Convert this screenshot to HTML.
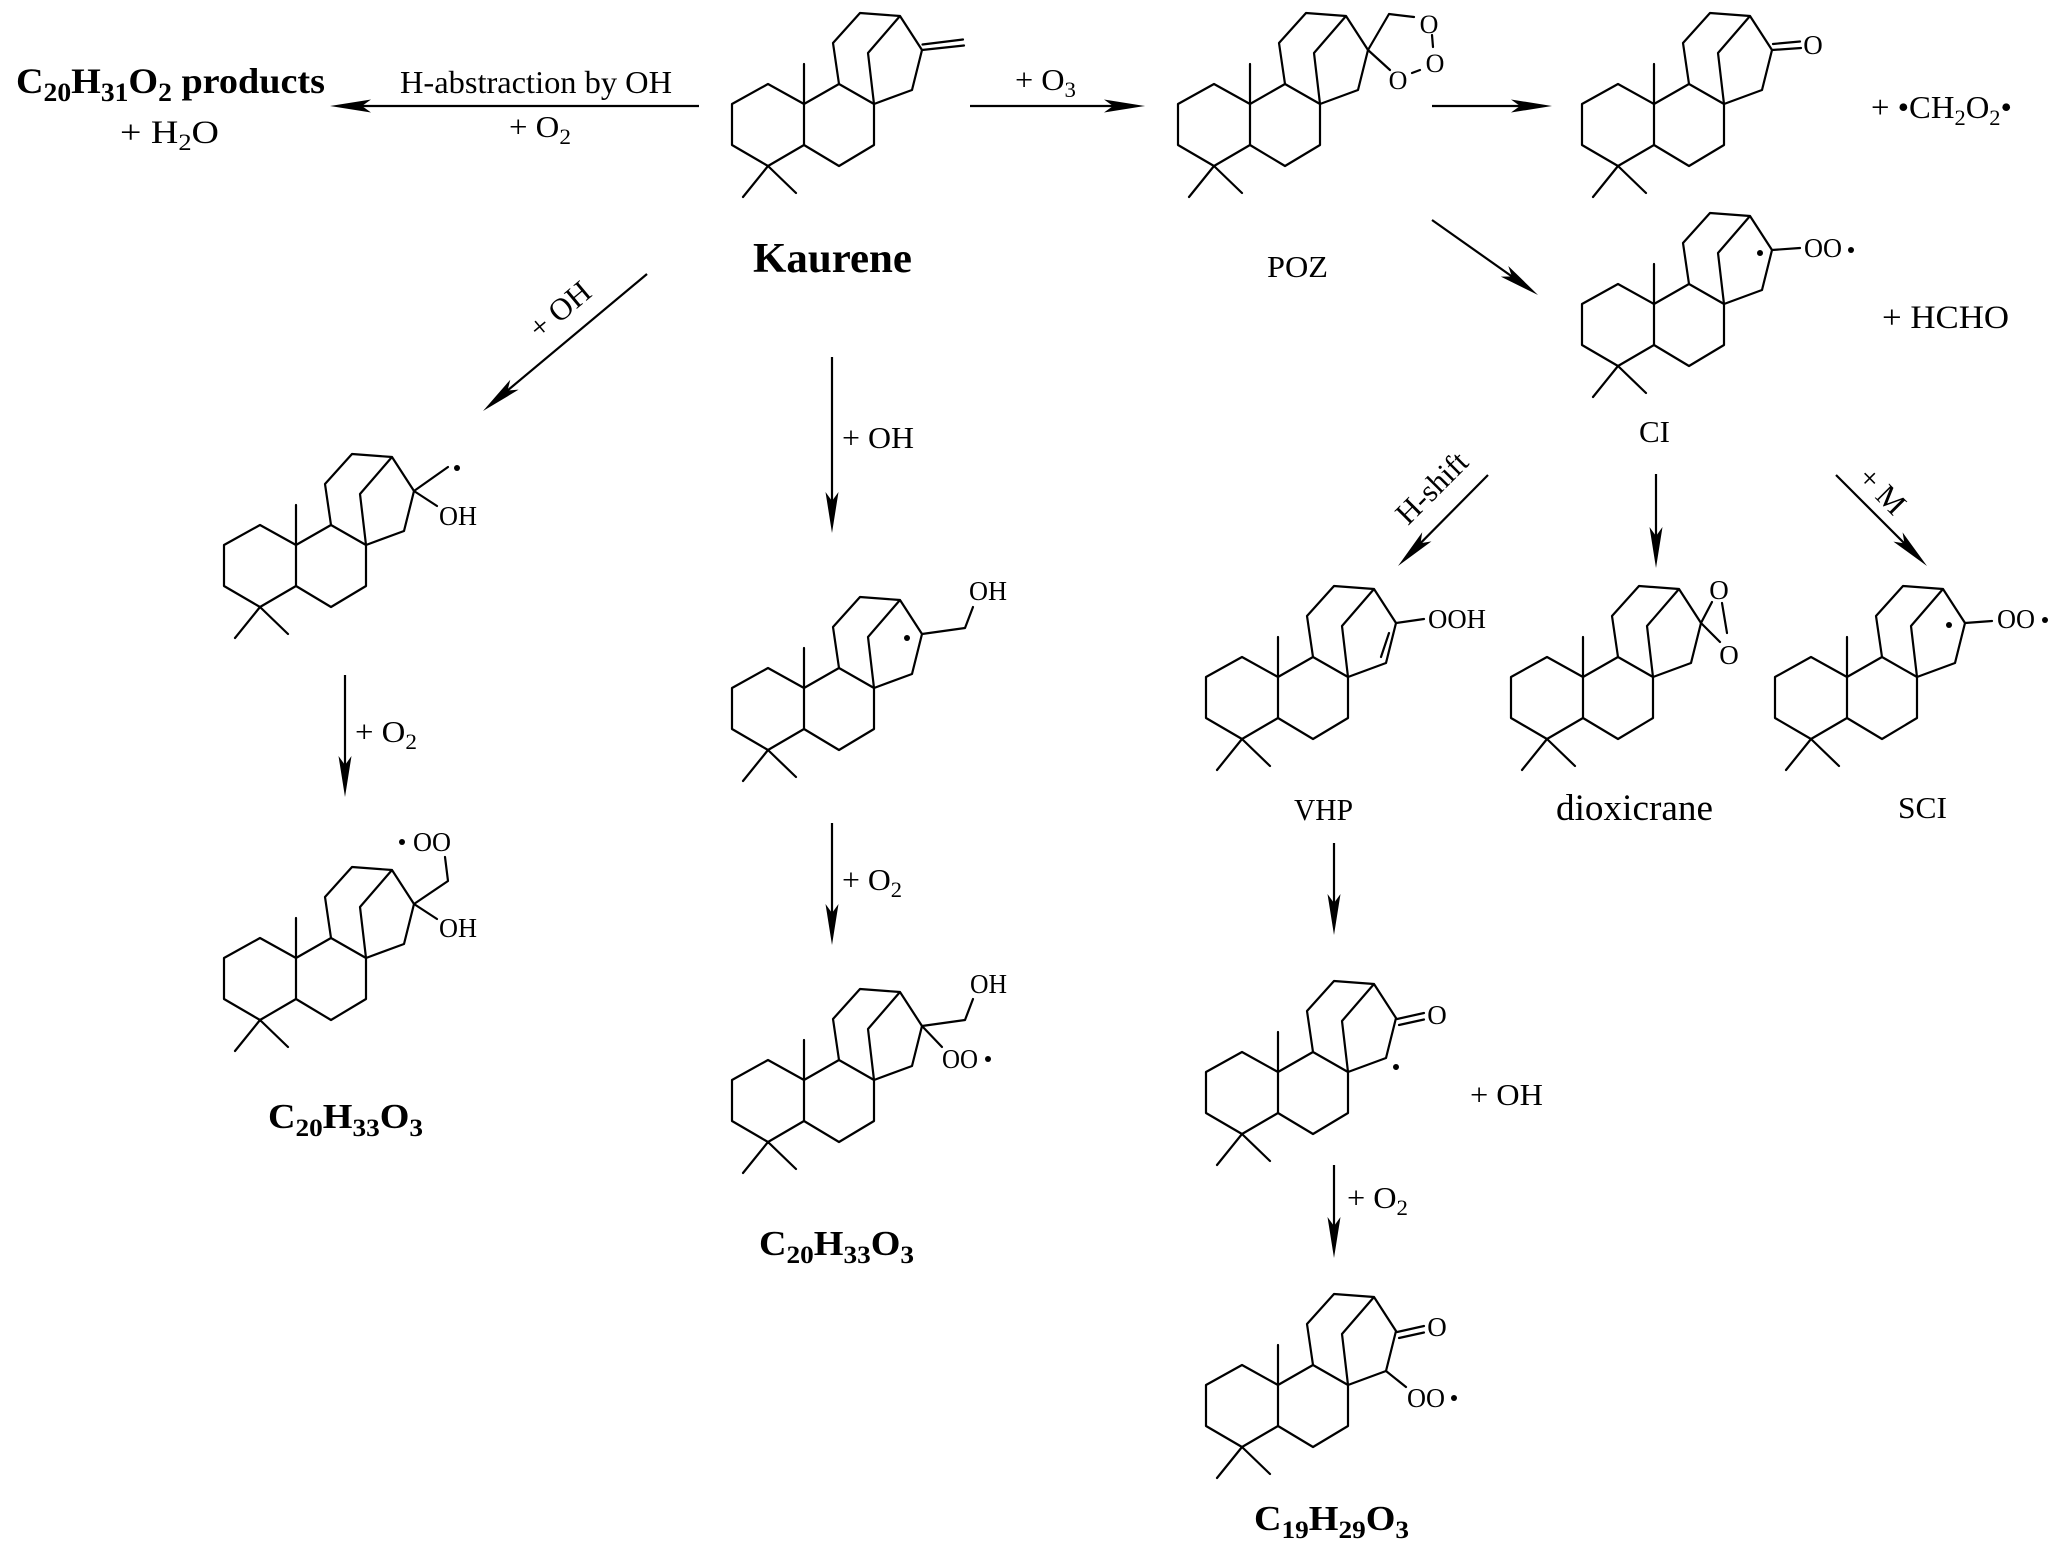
<!DOCTYPE html>
<html>
<head>
<meta charset="utf-8">
<style>
  html, body { margin: 0; padding: 0; background: #ffffff; }
  svg { display: block; }
  text { font-family: "Liberation Serif", "Times New Roman", serif; fill: #000; }
</style>
</head>
<body>
<svg xmlns="http://www.w3.org/2000/svg" xmlns:xlink="http://www.w3.org/1999/xlink" width="2067" height="1552" viewBox="0 0 2067 1552">
  <rect width="2067" height="1552" fill="#fff"/>
  <defs>
    <path id="sk" fill="none" stroke="#000" stroke-width="2.2" stroke-linejoin="round" stroke-linecap="round"
      d="M-72,0 L-36,-20 L0,0 L0,41 L-36,62 L-72,41 Z
         M0,0 L0,-40
         M-36,62 L-61,93
         M-36,62 L-8,89
         M0,0 L35,-20 L70,0 L70,41 L35,62 L0,41
         M35,-20 L29,-61 L56,-91 L96,-88 L118,-54 L108,-14 L70,0
         M70,0 L64,-51 L96,-88"/>
    <path id="ah" d="M0,0 L-41,-6.5 L-32,0 L-41,6.5 Z" fill="#000"/>
  </defs>

  <!-- ===== skeletons ===== -->
  <use xlink:href="#sk" href="#sk" x="804" y="104"/>
  <use xlink:href="#sk" href="#sk" x="1250" y="104"/>
  <use xlink:href="#sk" href="#sk" x="1654" y="104"/>
  <use xlink:href="#sk" href="#sk" x="1654" y="304"/>
  <use xlink:href="#sk" href="#sk" x="296" y="545"/>
  <use xlink:href="#sk" href="#sk" x="296" y="958"/>
  <use xlink:href="#sk" href="#sk" x="804" y="688"/>
  <use xlink:href="#sk" href="#sk" x="804" y="1080"/>
  <use xlink:href="#sk" href="#sk" x="1278" y="677"/>
  <use xlink:href="#sk" href="#sk" x="1583" y="677"/>
  <use xlink:href="#sk" href="#sk" x="1847" y="677"/>
  <use xlink:href="#sk" href="#sk" x="1278" y="1072"/>
  <use xlink:href="#sk" href="#sk" x="1278" y="1385"/>

  <!-- ===== substituent bonds ===== -->
  <g fill="none" stroke="#000" stroke-width="2.2" stroke-linecap="round" stroke-linejoin="round">
    <line x1="922" y1="50" x2="964" y2="45.5"/>
    <line x1="922.5" y1="44.5" x2="963" y2="39.5"/>
    <polyline points="1368,50 1389,14 1414,17"/>
    <line x1="1432" y1="35" x2="1433" y2="47"/>
    <line x1="1420" y1="70" x2="1412" y2="73"/>
    <line x1="1368" y1="50" x2="1390" y2="70"/>
    <line x1="1772" y1="50" x2="1801" y2="48"/>
    <line x1="1773" y1="44" x2="1800" y2="41.5"/>
    <line x1="1772" y1="250" x2="1800" y2="248"/>
    <line x1="414" y1="491" x2="448" y2="467"/>
    <line x1="414" y1="491" x2="437" y2="506"/>
    <polyline points="414,904 448,881 445,857"/>
    <line x1="414" y1="904" x2="437" y2="919"/>
    <polyline points="922,634 965,628 973,607"/>
    <polyline points="922,1026 965,1020 973,999"/>
    <line x1="922" y1="1026" x2="942" y2="1047"/>
    <line x1="1389" y1="633" x2="1381" y2="657"/>
    <line x1="1396" y1="623" x2="1424" y2="619"/>
    <line x1="1701" y1="623" x2="1720" y2="642"/>
    <line x1="1701" y1="623" x2="1712" y2="602"/>
    <line x1="1722" y1="603" x2="1727" y2="633"/>
    <line x1="1965" y1="623" x2="1992" y2="621"/>
    <line x1="1397" y1="1019" x2="1424" y2="1013"/>
    <line x1="1399" y1="1025" x2="1424" y2="1019.5"/>
    <line x1="1397" y1="1332" x2="1424" y2="1326"/>
    <line x1="1399" y1="1338" x2="1424" y2="1332.5"/>
    <line x1="1386" y1="1371" x2="1406" y2="1387"/>
  </g>

  <!-- ===== radical dots ===== -->
  <g fill="#000">
    <circle cx="1760" cy="253" r="3"/>
    <circle cx="1851" cy="250" r="3"/>
    <circle cx="457" cy="468" r="3"/>
    <circle cx="402" cy="842" r="3"/>
    <circle cx="907" cy="638" r="3"/>
    <circle cx="988" cy="1059" r="3"/>
    <circle cx="1949" cy="625" r="3"/>
    <circle cx="2045" cy="620" r="3"/>
    <circle cx="1396" cy="1067" r="3"/>
    <circle cx="1454" cy="1398" r="3"/>
  </g>

  <!-- ===== atom labels ===== -->
  <g font-size="26">
    <text x="1429" y="33" text-anchor="middle">O</text>
    <text x="1435" y="72" text-anchor="middle">O</text>
    <text x="1398" y="89" text-anchor="middle">O</text>
  </g>
  <g font-size="27">
    <text x="1813" y="54" text-anchor="middle">O</text>
    <text x="1804" y="257" textLength="38" lengthAdjust="spacingAndGlyphs">OO</text>
    <text x="439" y="525" textLength="38" lengthAdjust="spacingAndGlyphs">OH</text>
    <text x="413" y="851" textLength="38" lengthAdjust="spacingAndGlyphs">OO</text>
    <text x="439" y="937" textLength="38" lengthAdjust="spacingAndGlyphs">OH</text>
    <text x="969" y="600" textLength="38" lengthAdjust="spacingAndGlyphs">OH</text>
    <text x="970" y="993" textLength="37" lengthAdjust="spacingAndGlyphs">OH</text>
    <text x="942" y="1068" textLength="36" lengthAdjust="spacingAndGlyphs">OO</text>
    <text x="1428" y="628" textLength="58" lengthAdjust="spacingAndGlyphs">OOH</text>
    <text x="1719" y="599" text-anchor="middle">O</text>
    <text x="1729" y="664" text-anchor="middle">O</text>
    <text x="1997" y="628" textLength="38" lengthAdjust="spacingAndGlyphs">OO</text>
    <text x="1437" y="1024" text-anchor="middle">O</text>
    <text x="1437" y="1336" text-anchor="middle">O</text>
    <text x="1407" y="1407" textLength="38" lengthAdjust="spacingAndGlyphs">OO</text>
  </g>

  <!-- ===== arrows ===== -->
  <g stroke="#000" stroke-width="2.2" fill="none">
    <line x1="699" y1="106" x2="362" y2="106"/>
    <line x1="970" y1="106" x2="1113" y2="106"/>
    <line x1="1432" y1="106" x2="1520" y2="106"/>
    <line x1="1432" y1="220" x2="1512" y2="276.5"/>
    <line x1="647" y1="274" x2="507.5" y2="390.5"/>
    <line x1="832" y1="357" x2="832" y2="501"/>
    <line x1="345" y1="675" x2="345" y2="765"/>
    <line x1="832" y1="823" x2="832" y2="913"/>
    <line x1="1488" y1="475" x2="1420.5" y2="543.2"/>
    <line x1="1656" y1="474" x2="1656" y2="536"/>
    <line x1="1836" y1="475" x2="1904.4" y2="543.4"/>
    <line x1="1334" y1="843" x2="1334" y2="903"/>
    <line x1="1334" y1="1165" x2="1334" y2="1226"/>
  </g>
  <use xlink:href="#ah" href="#ah" transform="translate(330,106) rotate(180)"/>
  <use xlink:href="#ah" href="#ah" transform="translate(1145,106)"/>
  <use xlink:href="#ah" href="#ah" transform="translate(1552,106)"/>
  <use xlink:href="#ah" href="#ah" transform="translate(1538,295) rotate(35.3)"/>
  <use xlink:href="#ah" href="#ah" transform="translate(483,411) rotate(140.1)"/>
  <use xlink:href="#ah" href="#ah" transform="translate(832,533) rotate(90)"/>
  <use xlink:href="#ah" href="#ah" transform="translate(345,797) rotate(90)"/>
  <use xlink:href="#ah" href="#ah" transform="translate(832,945) rotate(90)"/>
  <use xlink:href="#ah" href="#ah" transform="translate(1398,566) rotate(134.7)"/>
  <use xlink:href="#ah" href="#ah" transform="translate(1656,568) rotate(90)"/>
  <use xlink:href="#ah" href="#ah" transform="translate(1927,566) rotate(45)"/>
  <use xlink:href="#ah" href="#ah" transform="translate(1334,935) rotate(90)"/>
  <use xlink:href="#ah" href="#ah" transform="translate(1334,1258) rotate(90)"/>

  <!-- ===== bold labels ===== -->
  <text x="16" y="93" font-weight="bold" font-size="36" textLength="309" lengthAdjust="spacingAndGlyphs">C<tspan font-size="26" dy="8">20</tspan><tspan dy="-8">H</tspan><tspan font-size="26" dy="8">31</tspan><tspan dy="-8">O</tspan><tspan font-size="26" dy="8">2</tspan><tspan dy="-8"> products</tspan></text>
  <text x="753" y="272" font-weight="bold" font-size="42" textLength="159" lengthAdjust="spacingAndGlyphs">Kaurene</text>
  <text x="268" y="1128" font-weight="bold" font-size="35" textLength="155" lengthAdjust="spacingAndGlyphs">C<tspan font-size="25" dy="8">20</tspan><tspan dy="-8">H</tspan><tspan font-size="25" dy="8">33</tspan><tspan dy="-8">O</tspan><tspan font-size="25" dy="8">3</tspan></text>
  <text x="759" y="1255" font-weight="bold" font-size="35" textLength="155" lengthAdjust="spacingAndGlyphs">C<tspan font-size="25" dy="8">20</tspan><tspan dy="-8">H</tspan><tspan font-size="25" dy="8">33</tspan><tspan dy="-8">O</tspan><tspan font-size="25" dy="8">3</tspan></text>
  <text x="1254" y="1530" font-weight="bold" font-size="35" textLength="155" lengthAdjust="spacingAndGlyphs">C<tspan font-size="25" dy="8">19</tspan><tspan dy="-8">H</tspan><tspan font-size="25" dy="8">29</tspan><tspan dy="-8">O</tspan><tspan font-size="25" dy="8">3</tspan></text>

  <!-- ===== regular labels ===== -->
  <g font-size="31">
    <text x="120" y="143" font-size="33" textLength="99" lengthAdjust="spacingAndGlyphs">+ H<tspan font-size="23" dy="7">2</tspan><tspan dy="-7">O</tspan></text>
    <text x="400" y="93" font-size="32" textLength="272" lengthAdjust="spacingAndGlyphs">H-abstraction by OH</text>
    <text x="509" y="137" textLength="62" lengthAdjust="spacingAndGlyphs">+ O<tspan font-size="22" dy="7">2</tspan></text>
    <text x="1015" y="90" textLength="61" lengthAdjust="spacingAndGlyphs">+ O<tspan font-size="22" dy="7">3</tspan></text>
    <text x="1871" y="118" font-size="32" textLength="141" lengthAdjust="spacingAndGlyphs">+ •CH<tspan font-size="22" dy="7">2</tspan><tspan dy="-7">O</tspan><tspan font-size="22" dy="7">2</tspan><tspan dy="-7">•</tspan></text>
    <text x="1267" y="277" textLength="61" lengthAdjust="spacingAndGlyphs">POZ</text>
    <text x="1882" y="328" font-size="33" textLength="127" lengthAdjust="spacingAndGlyphs">+ HCHO</text>
    <text x="1639" y="442" textLength="31" lengthAdjust="spacingAndGlyphs">CI</text>
    <text transform="translate(560,310) rotate(-40)" x="0" y="10" text-anchor="middle">+ OH</text>
    <text x="842" y="448" textLength="72" lengthAdjust="spacingAndGlyphs">+ OH</text>
    <text x="355" y="742" textLength="62" lengthAdjust="spacingAndGlyphs">+ O<tspan font-size="22" dy="7">2</tspan></text>
    <text x="842" y="890" textLength="60" lengthAdjust="spacingAndGlyphs">+ O<tspan font-size="22" dy="7">2</tspan></text>
    <text transform="translate(1432,488) rotate(-45)" x="0" y="10" text-anchor="middle">H-shift</text>
    <text transform="translate(1882,491) rotate(45)" x="0" y="10" text-anchor="middle">+ M</text>
    <text x="1294" y="820" textLength="59" lengthAdjust="spacingAndGlyphs">VHP</text>
    <text x="1556" y="820" font-size="37" textLength="157" lengthAdjust="spacingAndGlyphs">dioxicrane</text>
    <text x="1898" y="818" textLength="49" lengthAdjust="spacingAndGlyphs">SCI</text>
    <text x="1470" y="1105" textLength="73" lengthAdjust="spacingAndGlyphs">+ OH</text>
    <text x="1347" y="1208" textLength="61" lengthAdjust="spacingAndGlyphs">+ O<tspan font-size="22" dy="7">2</tspan></text>
  </g>
</svg>
</body>
</html>
